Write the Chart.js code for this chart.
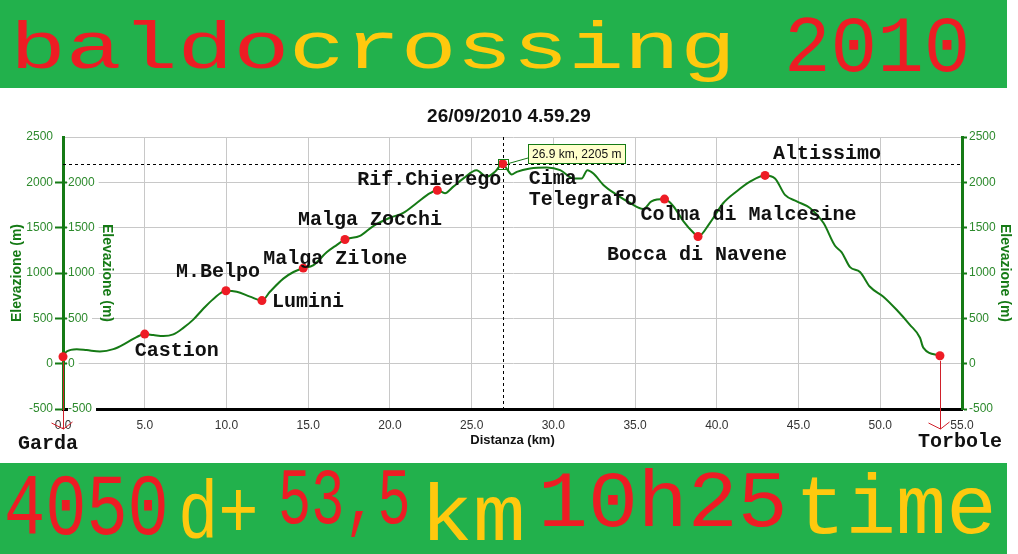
<!DOCTYPE html>
<html><head><meta charset="utf-8">
<script src="https://cdn.jsdelivr.net/npm/chart.js@4.4.1/dist/chart.umd.min.js"></script>
<style>
html,body{margin:0;padding:0;background:#fff;width:1018px;height:554px;overflow:hidden;position:relative}
.banner{position:absolute;left:0;width:1007px;background:#22b14c;overflow:hidden}
.banner span{position:absolute;white-space:pre;font-family:"Liberation Mono",monospace;line-height:1;transform-origin:0 0}
.r{color:#ed1c24}.g{color:#ffc90e}
#wrap{position:absolute;left:0;top:88px;width:1018px;height:375px}
</style></head><body>
<div class="banner" style="top:0;height:88px">
 <span class="r" style="left:10px;top:18px;font-size:66px;transform:scaleX(1.41)">baldo</span>
 <span class="g" style="left:289px;top:18px;font-size:66px;transform:scaleX(1.41)">crossing</span>
 <span class="r" style="left:784px;top:10px;font-size:80px;transform:scaleX(0.97)">2010</span>
</div>
<div id="wrap"><canvas id="c" width="1018" height="375"></canvas></div>
<div class="banner" style="top:463px;height:91px">
 <span class="r" style="left:4px;top:4px;font-size:88px;transform:scaleX(0.78)">4050</span>
 <span class="g" style="left:178px;top:12px;font-size:82px;transform:scaleX(0.82)">d+</span>
 <span class="r" style="left:278px;top:-1px;font-size:80px;transform:scaleX(0.69)">53,5</span>
 <span class="g" style="left:420px;top:16px;font-size:80px;transform:scaleX(1.1)">km</span>
 <span class="r" style="left:538px;top:2px;font-size:80px;transform:scaleX(1.04)">10h25</span>
 <span class="g" style="left:795px;top:6px;font-size:84px;transform:scaleX(1.0)">time</span>
</div>
<script>
// ---- data ----
const profileKm = [0,0.22,0.84,1.45,2.26,3.08,3.9,4.5,5.0,5.53,6.14,6.75,7.36,7.97,8.58,9.2,9.97,10.63,11.44,12.17,12.66,13.48,14.1,14.7,15.3,16.13,16.74,17.25,18.17,18.98,20.0,20.82,21.64,22.45,22.9,23.37,23.88,24.5,25.3,25.92,26.43,26.9,27.14,27.45,27.76,28.57,29.6,30.42,31.22,31.73,32.08,32.45,33.06,33.88,34.7,35.5,36.0,36.8,37.34,37.95,38.56,38.85,39.58,40.4,41.2,42.03,42.95,43.56,44.17,44.89,45.7,46.52,47.23,47.64,48.15,48.76,49.37,50.19,51.0,51.8,52.43,52.63,53.65];
const profileEle = [76,134,160,150,135,160,232,293,326,315,304,323,395,486,605,714,804,793,739,696,793,938,1011,1054,1084,1228,1308,1370,1410,1518,1609,1663,1772,1880,1913,1880,1953,2043,2134,2062,2116,2205,2152,2087,2116,2152,2163,2134,2043,2043,2134,2098,1971,1862,1772,1706,1790,1815,1736,1573,1446,1402,1554,1772,1899,2008,2076,2043,1862,1790,1717,1554,1301,1228,1065,1011,848,739,594,431,286,177,87];
const wpNames = ['Garda','Castion','M.Belpo','Lumini','Malga Zilone','Malga Zocchi','Rif.Chierego','Cima\nTelegrafo','Colma di Malcesine','Bocca di Navene','Altissimo','Torbole'];
const wpKm  = [0,5.0,9.97,12.17,14.7,17.25,22.9,26.9,36.8,38.85,42.95,53.65];
const wpEle = [76,326,804,696,1054,1370,1913,2205,1815,1402,2076,87];
const xTicks = [0,5,10,15,20,25,30,35,40,45,50,55];
const yTicks = [-500,0,500,1000,1500,2000,2500];
const cursorKm = 26.9;
const cursorEle = 2205;
const chartTitle = '26/09/2010 4.59.29';
const xTitle = 'Distanza (km)';
const yTitle = 'Elevazione (m)';

// ---- label placement (style only) ----
const labelPlacement = [[-45,87],[-10,17],[-50,-19],[10,1],[-40,-9],[-47,-19],[-80,-10],[26,15],[-24,16],[-91,18],[8,-21],[-22,86]];

const GREEN_AX = '#157a15', GREEN_TX = '#2d8a2d', GRID = '#c8c8c8';
Chart.defaults.font.family = '"Liberation Sans", Arial, sans-serif';

const overlay = {
  id: 'overlay',
  beforeDatasetsDraw(chart) {
    const {ctx, chartArea: a, scales: {x, y}} = chart;
    const cx = Math.round(x.getPixelForValue(cursorKm)) + 0.5;
    const cy = Math.round(y.getPixelForValue(cursorEle)) + 0.5;
    ctx.save();
    ctx.strokeStyle = '#000'; ctx.lineWidth = 1; ctx.setLineDash([3, 3]);
    ctx.beginPath();
    ctx.moveTo(a.left, cy); ctx.lineTo(a.right, cy);
    ctx.moveTo(cx, a.top); ctx.lineTo(cx, a.bottom);
    ctx.stroke();
    ctx.restore();
  },
  afterDatasetsDraw(chart) {
    const {ctx, chartArea: a, scales: {x, y}} = chart;
    ctx.save();
    // inner axis title (reads top to bottom)
    ctx.save();
    ctx.translate(107, (a.top + a.bottom) / 2);
    ctx.rotate(Math.PI / 2);
    ctx.fillStyle = GREEN_AX; ctx.font = 'bold 14px "Liberation Sans"';
    ctx.textAlign = 'center'; ctx.textBaseline = 'middle';
    ctx.fillText(yTitle, 0, 0);
    ctx.restore();
    // start / end arrows
    [0, wpKm.length - 1].forEach(i => {
      const px = Math.round(x.getPixelForValue(wpKm[i])) + 0.5;
      const py = y.getPixelForValue(wpEle[i]);
      const end = a.bottom + 20;
      ctx.strokeStyle = '#d0202a'; ctx.lineWidth = 1;
      ctx.beginPath();
      ctx.moveTo(px, py + 5); ctx.lineTo(px, end);
      ctx.moveTo(px - 12, end - 6); ctx.lineTo(px, end); ctx.lineTo(px + 9, end - 7);
      ctx.stroke();
    });
    // waypoint labels
    ctx.fillStyle = '#111'; ctx.font = 'bold 20px "Liberation Mono", monospace';
    ctx.textAlign = 'left'; ctx.textBaseline = 'middle';
    wpNames.forEach((n, i) => {
      const px = x.getPixelForValue(wpKm[i]);
      const py = y.getPixelForValue(wpEle[i]);
      const [dx, dy] = labelPlacement[i];
      n.split('\n').forEach((ln, j) => ctx.fillText(ln, px + dx, py + dy + j * 21));
    });
    // cursor tooltip
    const cx = Math.round(x.getPixelForValue(cursorKm)) + 0.5;
    const cy = Math.round(y.getPixelForValue(cursorEle)) + 0.5;
    const label = cursorKm.toFixed(1) + ' km, ' + cursorEle + ' m';
    ctx.font = '12px "Liberation Sans"';
    const w = Math.round(ctx.measureText(label).width + 8), h = 19;
    const bx = Math.round(cx + 24), by = Math.round(cy - 21);
    ctx.strokeStyle = GREEN_AX; ctx.lineWidth = 1;
    ctx.strokeRect(cx - 5, cy - 5, 10, 10);
    ctx.beginPath(); ctx.moveTo(cx + 5, cy - 1); ctx.lineTo(bx, by + h - 5); ctx.stroke();
    ctx.fillStyle = '#ffffcc'; ctx.fillRect(bx, by, w, h);
    ctx.strokeRect(bx + 0.5, by + 0.5, w, h);
    ctx.fillStyle = '#111'; ctx.textBaseline = 'middle';
    ctx.fillText(label, bx + 4, by + h / 2 + 1);
    ctx.restore();
  }
};

const tickSet = vals => s => { s.ticks = vals.map(v => ({value: v})); };
const yFont = {size: 12, family: '"Liberation Sans"'};
const plain = v => String(v);

new Chart(document.getElementById('c'), {
  type: 'scatter',
  data: {
    datasets: [
      {label: 'waypoints', data: wpKm.map((k, i) => ({x: k, y: wpEle[i]})), clip: false,
       pointRadius: 4.5, pointBackgroundColor: '#ee1c25', pointBorderWidth: 0, showLine: false, order: 0},
      {label: 'profile', data: profileKm.map((k, i) => ({x: k, y: profileEle[i]})), clip: false,
       showLine: true, borderColor: '#157a15', borderWidth: 2, pointRadius: 0,
       cubicInterpolationMode: 'monotone', fill: false, order: 1}
    ]
  },
  options: {
    responsive: false, animation: false, devicePixelRatio: 1,
    layout: {padding: 0},
    plugins: {
      legend: {display: false}, tooltip: {enabled: false},
      title: {display: true, text: chartTitle, color: '#111',
              font: {size: 19, weight: 'bold', family: '"Liberation Sans"'}, padding: {top: 17.6, bottom: 8.6}}
    },
    scales: {
      x: {type: 'linear', min: 0, max: 55, afterBuildTicks: tickSet(xTicks),
          ticks: {callback: v => v.toFixed(1), color: '#333', font: yFont, padding: 9, maxRotation: 0, autoSkip: false},
          grid: {color: GRID, drawTicks: false},
          border: {color: '#000', width: 3},
          title: {display: true, text: xTitle, color: '#111', font: {size: 13, weight: 'bold'}, padding: {top: 0, bottom: 15}},
          afterFit: s => { s.height = 54; }},
      y: {position: 'left', weight: 1, min: -500, max: 2500, afterBuildTicks: tickSet(yTicks),
          ticks: {callback: plain, color: GREEN_TX, font: yFont, padding: 2},
          grid: {color: GRID, tickColor: c => c.tick && c.tick.value === 2500 ? 'rgba(0,0,0,0)' : GREEN_AX, tickLength: 8, tickWidth: 2},
          border: {color: GREEN_AX, width: 3},
          title: {display: true, text: yTitle, color: GREEN_AX, font: {size: 14, weight: 'bold'}, padding: {top: 9, bottom: 0}},
          afterFit: s => { s.width = 63; }},
      yR: {position: 'right', min: -500, max: 2500, afterBuildTicks: tickSet(yTicks),
          ticks: {callback: plain, color: GREEN_TX, font: yFont, padding: 2},
          grid: {drawOnChartArea: false, tickColor: GREEN_AX, tickLength: 5, tickWidth: 2},
          border: {color: GREEN_AX, width: 3},
          title: {display: true, text: yTitle, color: GREEN_AX, font: {size: 14, weight: 'bold'}, padding: {top: 5, bottom: 0}},
          afterFit: s => { s.width = 56; }},
      yIn: {position: 'left', weight: 0, min: -500, max: 2500, afterBuildTicks: tickSet(yTicks.filter(v => v < 2500)),
          ticks: {callback: plain, mirror: true, padding: 5, color: GREEN_TX, font: yFont,
                  showLabelBackdrop: true, backdropColor: '#fff', backdropPadding: {left: 0, right: 4, top: 1, bottom: 1}},
          grid: {drawOnChartArea: false, tickColor: GREEN_AX, tickLength: -4, tickWidth: 2},
          border: {display: false},
          afterFit: s => { s.width = 0; }}
    }
  },
  plugins: [overlay]
});
</script>
</body></html>
